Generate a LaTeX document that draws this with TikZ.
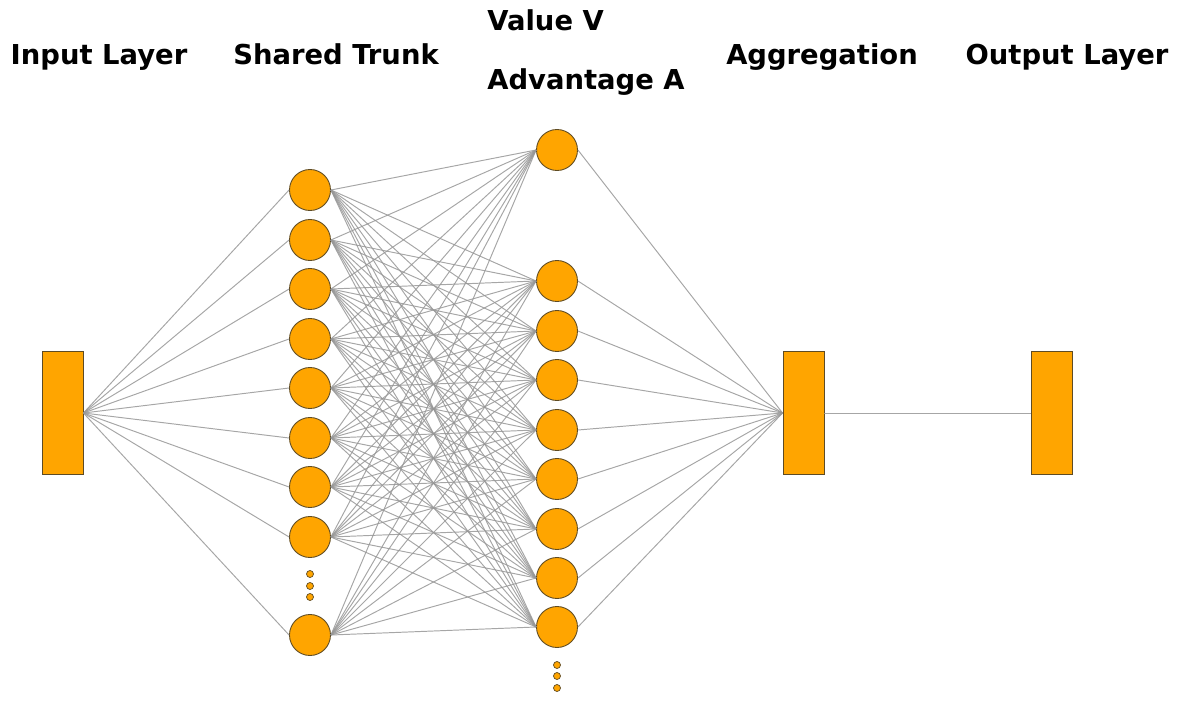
\documentclass[tikz,border=0pt]{standalone}
\usepackage{fontspec}
\setmainfont{DejaVu Sans}
\usepackage{tikz}
\usetikzlibrary{positioning}
\definecolor{netorange}{RGB}{255,165,0}
\definecolor{netedge}{RGB}{95,75,35}
\definecolor{linkgray}{RGB}{150,150,150}
\begin{document}
\begin{tikzpicture}[x=0.02cm, y=-0.02cm,
	neuron/.style={circle, draw=netedge, fill=netorange, line width=0.5pt, minimum size=0.82cm, inner sep=0pt},
	dotnode/.style={circle, draw=netedge, fill=netorange, line width=0.4pt, minimum size=0.14cm, inner sep=0pt},
	layerbox/.style={rectangle, draw=netedge, fill=netorange, line width=0.5pt, minimum width=0.82cm, minimum height=2.46cm, inner sep=0pt},
	link/.style={draw=linkgray, line width=0.55pt, opacity=0.85},
	title/.style={font=\fontsize{15.6}{18}\selectfont\bfseries, inner sep=0pt}
	]
	\useasboundingbox (0,0) rectangle (1180,716);
	
	% NODES
	\node (input) [layerbox] at (62.5,413) {};
	\node (agg) [layerbox] at (803.5,413) {};
	\node (output) [layerbox] at (1051.5,413) {};
	
	\foreach \i/\y in {1/190,2/240,3/289,4/339,5/388,6/438,7/487,8/537,9/635}
		\node (t\i) [neuron] at (310,\y) {};
	\node (value) [neuron] at (557,150) {};
	\foreach \i/\y in {1/281,2/331,3/380,4/430,5/479,6/529,7/578,8/627}
		\node (a\i) [neuron] at (557,\y) {};
	
	\foreach \y in {574,586,597}
		\node[dotnode] at (310,\y) {};
	\foreach \y in {665,676,688}
		\node[dotnode] at (557,\y) {};
	
	% LINKS
	\foreach \i in {1,...,9}
		\draw[link] (input.east) -- (t\i.west);
	\foreach \i in {1,...,9}{
		\draw[link] (t\i.east) -- (value.west);
		\foreach \j in {1,...,8}
			\draw[link] (t\i.east) -- (a\j.west);
	}
	\draw[link] (value.east) -- (agg.west);
	\foreach \j in {1,...,8}
		\draw[link] (a\j.east) -- (agg.west);
	\draw[link] (agg.east) -- (output.west);
	
	% LABELS
	\node[title, anchor=base] (lin) at (99,65) {Input Layer};
	\node[title, anchor=base] (ltrunk) at (336,65) {Shared Trunk};
	\node[title, anchor=base west] (lval) at (487,31) {Value V};
	\node[title, anchor=base west] (ladv) at (487,90) {Advantage A};
	\node[title, anchor=base] (lagg) at (822,65) {Aggregation};
	\node[title, anchor=base] (lout) at (1067,65) {Output Layer};
	
\end{tikzpicture}
\end{document}
